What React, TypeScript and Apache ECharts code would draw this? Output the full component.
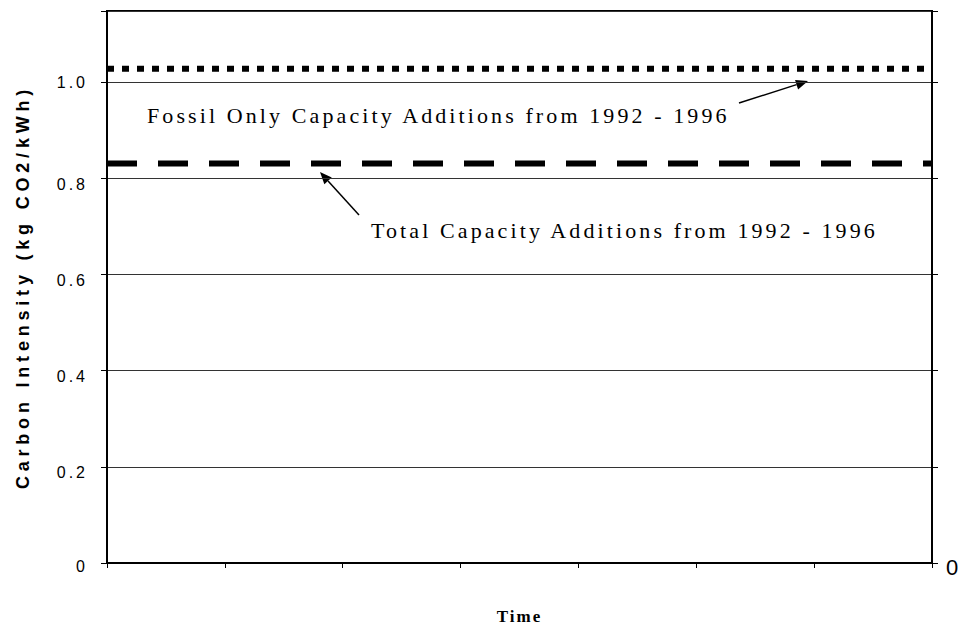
import React, { useEffect, useRef } from "react";
import * as echarts from "echarts";

const categories = ["", "", "", "", "", "", "", ""];
const fossilOnly = [1.028, 1.028, 1.028, 1.028, 1.028, 1.028, 1.028, 1.028];
const totalCapacity = [0.831, 0.831, 0.831, 0.831, 0.831, 0.831, 0.831, 0.831];
const yTickLabels = ["0", "0.2", "0.4", "0.6", "0.8", "1.0"];

const yTitle = "Carbon Intensity (kg CO2/kWh)";
const xTitle = "Time";
const fossilText = "Fossil Only Capacity Additions from 1992 - 1996";
const totalText = "Total Capacity Additions from 1992 - 1996";

function arrow(x1: number, y1: number, x2: number, y2: number) {
  const ang = Math.atan2(y2 - y1, x2 - x1);
  const L = 12;
  const W = 5;
  const bx = x2 - L * Math.cos(ang);
  const by = y2 - L * Math.sin(ang);
  const px = -Math.sin(ang) * W;
  const py = Math.cos(ang) * W;
  return [
    {
      type: "line",
      shape: { x1, y1, x2: bx, y2: by },
      style: { stroke: "#000", lineWidth: 1.5 },
      silent: true,
    },
    {
      type: "polygon",
      shape: { points: [[x2, y2], [bx + px, by + py], [bx - px, by - py]] },
      style: { fill: "#000" },
      silent: true,
    },
  ];
}

const labelFont = { fontFamily: "Liberation Sans", fontSize: 16, color: "#000", align: "right" };

export default function App() {
  const ref = useRef<HTMLDivElement>(null);
  useEffect(() => {
    const chart = echarts.init(ref.current!, null, { renderer: "svg" });
    const labelFmt = (v: number) => {
      const i = Math.round(v / 0.2);
      if (Math.abs(v - i * 0.2) > 1e-6 || i >= yTickLabels.length) return "";
      const key = i === 0 ? "low" : i === yTickLabels.length - 1 ? "top" : "mid";
      return "{" + key + "|" + yTickLabels[i] + "}";
    };
    chart.setOption({
      animation: false,
      backgroundColor: "#fff",
      grid: {
        left: 107,
        right: 28,
        top: 11,
        bottom: 67,
        show: true,
        borderColor: "#000",
        borderWidth: 2,
        containLabel: false,
        outerBoundsMode: "none",
      },
      xAxis: {
        type: "category",
        data: categories,
        boundaryGap: false,
        axisLine: { show: true, lineStyle: { color: "#000", width: 2 } },
        axisTick: { show: true, length: 5, lineStyle: { color: "#000", width: 1 } },
        axisLabel: { show: false },
        splitLine: { show: false },
        name: xTitle,
        nameLocation: "middle",
        nameGap: 45,
        nameTextStyle: {
          fontFamily: "Liberation Serif",
          fontWeight: "bold",
          fontSize: 17,
          color: "#000",
        },
      },
      yAxis: [
        {
          type: "value",
          min: 0,
          max: 1.148,
          interval: 0.2,
          axisLine: { show: true, lineStyle: { color: "#000", width: 2 } },
          axisTick: { show: true, length: 6, lineStyle: { color: "#000", width: 1 } },
          axisLabel: {
            formatter: labelFmt,
            margin: 19,
            fontFamily: "Liberation Sans",
            fontSize: 16,
            color: "#000",
            rich: {
              top: { ...labelFont },
              mid: { ...labelFont, padding: [12, 0, 0, 0] },
              low: { ...labelFont, padding: [6, 0, 0, 0] },
            },
          },
          splitLine: { show: true, lineStyle: { color: "#333", width: 1 } },
          name: yTitle,
          nameLocation: "middle",
          nameGap: 75,
          nameRotate: 90,
          nameTextStyle: {
            fontFamily: "Liberation Sans",
            fontWeight: "bold",
            fontSize: 18,
            color: "#000",
          },
        },
        {
          type: "value",
          position: "right",
          min: 0,
          max: 1.148,
          interval: 0.2,
          axisLine: { show: true, lineStyle: { color: "#000", width: 2 } },
          axisTick: { show: true, length: 6, lineStyle: { color: "#000", width: 1 } },
          axisLabel: {
            formatter: (v: number) => (v === 0 ? "{r|0}" : ""),
            margin: 14,
            fontFamily: "Liberation Sans",
            fontSize: 22,
            color: "#000",
            rich: {
              r: { fontFamily: "Liberation Sans", fontSize: 22, color: "#000", padding: [8, 0, 0, 0] },
            },
          },
          splitLine: { show: false },
        },
      ],
      series: [
        {
          type: "line",
          name: "Fossil Only",
          data: fossilOnly,
          symbol: "none",
          lineStyle: { color: "#000", width: 6, type: [7, 8], cap: "butt" },
          silent: true,
        },
        {
          type: "line",
          name: "Total Capacity",
          data: totalCapacity,
          symbol: "none",
          lineStyle: { color: "#000", width: 6, type: [30, 21], cap: "butt" },
          silent: true,
        },
      ],
      graphic: [
        {
          type: "text",
          left: 147,
          top: 104,
          style: {
            text: fossilText,
            fontFamily: "Liberation Serif",
            fontSize: 22,
            fill: "#000",
          },
          silent: true,
        },
        {
          type: "text",
          left: 371,
          top: 219,
          style: {
            text: totalText,
            fontFamily: "Liberation Serif",
            fontSize: 22,
            fill: "#000",
          },
          silent: true,
        },
        ...arrow(739, 103, 808, 81),
        ...arrow(359, 215, 320, 172),
      ],
    });

    const applySpacing = () => {
      const root = ref.current;
      if (!root) return;
      const rootBox = root.getBoundingClientRect();
      root.querySelectorAll("text").forEach((t) => {
        const s = (t.textContent || "").trim();
        let ls = 0;
        if (s === yTitle) ls = 4.8;
        else if (s === xTitle) ls = 2;
        else if (s === fossilText || s === totalText) ls = 3.1;
        else if (yTickLabels.includes(s)) {
          const b = t.getBoundingClientRect();
          ls = b.left - rootBox.left > 900 ? 0 : 3;
        }
        if (ls) t.setAttribute("letter-spacing", String(ls));
      });
    };
    applySpacing();
    chart.on("finished", applySpacing);
    const timer = setTimeout(applySpacing, 50);
    return () => {
      clearTimeout(timer);
      chart.dispose();
    };
  }, []);
  return <div ref={ref} style={{ width: 960, height: 630, position: "absolute", left: 0, top: 0 }} />;
}
